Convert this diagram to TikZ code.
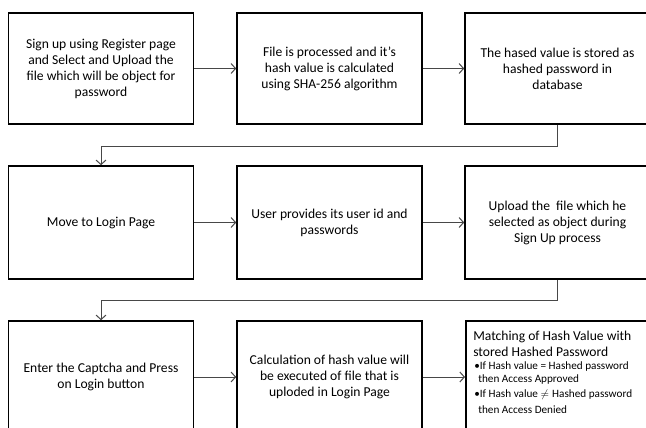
\documentclass[tikz,border=0pt]{standalone}
\usepackage{fontspec}
\setmainfont{Carlito}
\usetikzlibrary{arrows.meta}
\begin{document}
\begin{tikzpicture}[x=1pt,y=-1pt,
  box/.style={draw=black, line width=1.6pt, minimum width=185pt, inner sep=0pt, align=center, font=\fontsize{13.6}{16}\selectfont},
  r1/.style={box, minimum height=111pt},
  r2/.style={box, minimum height=113pt},
  r3/.style={box, minimum height=112pt},
  conn/.style={draw=black!72, line width=1pt, -{Straight Barb[length=4.5pt,width=10pt,line width=1pt]}},
]
\useasboundingbox (0,0) rectangle (646,428);
\clip (0,0) rectangle (646,428);
\fill[white] (0,0) rectangle (646,428);
% row 1
\node[r1] (a1) at (101,68.5) {Sign up using Register page\\and Select and Upload the\\file which will be object for\\password};
\node[r1] (a2) at (329.5,68.5) {File is processed and it's\\hash value is calculated\\using SHA-256 algorithm};
\node[r1] (a3) at (557.5,68.5) {The hased value is stored as\\hashed password in\\database};
% row 2
\node[r2] (b1) at (101,222.5) {Move to Login Page};
\node[r2] (b2) at (329.5,222.5) {User provides its user id and\\passwords};
\node[r2] (b3) at (557.5,222.5) {Upload the\ \ file which he\\selected as object during\\Sign Up process};
% row 3
\node[r3] (c1) at (101,377) {Enter the Captcha and Press\\on Login button};
\node[r3] (c2) at (329.5,377) {Calculation of hash value will\\be executed of file that is\\uploded in Login Page};
\node[r3, anchor=west, text width=172pt, inner xsep=7.5pt, text height=19pt, text depth=93pt, align=flush left] (c3) at (465,377) {Matching of Hash Value with\\stored Hashed Password\par\vspace{1pt}\fontsize{11.2}{12.5}\selectfont\hspace*{1pt}\textbullet If Hash value = Hashed password\\\hspace*{5pt}then Access Approved\\[2.5pt]\hspace*{1pt}\textbullet If Hash value \smash{\(\neq\mathrm{Hashed}\)} password\\\hspace*{5pt}then Access Denied};
% connectors
\draw[conn] (a1) -- (a2);
\draw[conn] (a2) -- (a3);
\draw[conn] (b1) -- (b2);
\draw[conn] (b2) -- (b3);
\draw[conn] (c1) -- (c2);
\draw[conn] (c2) -- (c3);
\draw[conn] (a3.south) -- ++(0,22) -| (b1.north);
\draw[conn] (b3.south) -- ++(0,21) -| (c1.north);
\end{tikzpicture}
\end{document}
